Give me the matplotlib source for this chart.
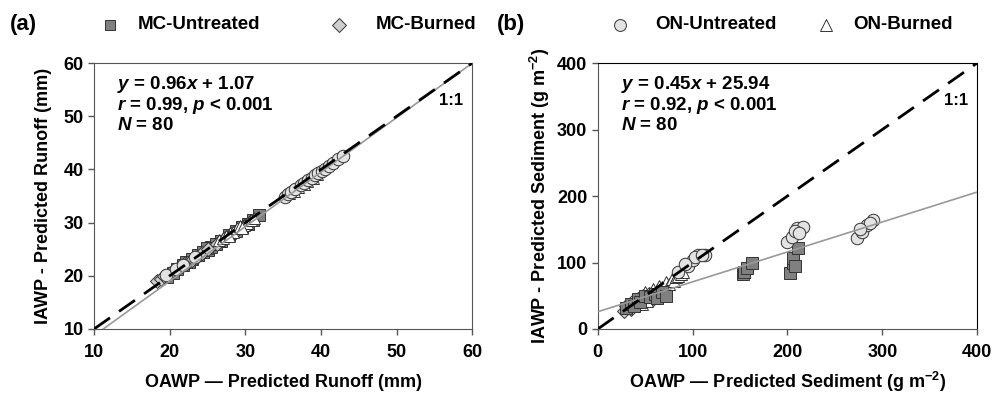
import matplotlib.pyplot as plt
from matplotlib.lines import Line2D

plt.rcParams['font.family'] = ['Liberation Sans', 'DejaVu Sans']
plt.rcParams['font.weight'] = 'bold'
plt.rcParams['mathtext.fontset'] = 'custom'
plt.rcParams['mathtext.it'] = 'Liberation Sans:italic:bold'
plt.rcParams['mathtext.rm'] = 'Liberation Sans:bold'
plt.rcParams['mathtext.bf'] = 'Liberation Sans:bold'

# ---- panel (a): runoff (mm) ----
mc_unt_x_a = [19.6, 20.4, 21.0, 21.8, 22.5, 23.0, 23.7, 24.4, 25.0, 25.5, 26.1, 26.8, 27.9, 28.8, 29.6, 30.3, 31.0, 31.8, 22.2, 24.9]
mc_unt_y_a = [19.8, 20.6, 21.3, 22.0, 22.6, 23.2, 23.9, 24.4, 24.8, 25.5, 25.9, 26.5, 27.6, 28.4, 29.1, 29.8, 30.5, 31.4, 22.6, 25.2]
mc_burn_x_a = [18.3, 18.8, 19.3, 19.9, 20.5, 21.1, 21.6, 22.3, 22.9, 23.6, 24.3, 25.1, 26.2, 27.3, 28.1, 28.9, 29.8, 30.6, 20.1, 21.9]
mc_burn_y_a = [19.0, 19.4, 19.9, 20.3, 20.9, 21.4, 21.8, 22.5, 23.0, 23.6, 24.2, 25.0, 26.0, 27.1, 27.8, 28.6, 29.4, 30.2, 20.6, 22.3]
on_unt_x_a = [19.5, 20.8, 21.7, 23.4, 35.2, 35.6, 36.0, 36.6, 37.3, 37.8, 38.3, 38.8, 39.2, 39.6, 40.1, 40.5, 41.0, 41.6, 42.3, 42.9]
on_unt_y_a = [20.2, 21.3, 22.1, 23.6, 34.9, 35.4, 35.8, 36.4, 37.0, 37.5, 38.0, 38.4, 38.9, 39.4, 39.7, 40.1, 40.6, 41.3, 42.0, 42.6]
on_burn_x_a = [26.5, 27.0, 27.5, 28.0, 28.4, 28.9, 29.3, 29.8, 30.2, 30.7, 31.1, 35.8, 36.4, 37.0, 37.7, 38.2, 38.9, 39.5, 27.8, 29.6]
on_burn_y_a = [26.8, 27.1, 27.4, 28.1, 28.2, 28.9, 29.4, 29.6, 30.0, 30.5, 30.9, 35.6, 36.0, 36.7, 37.3, 37.8, 38.4, 39.1, 27.4, 29.0]
# drawn regression line (slope, intercept)
fit_a = (1.025, -1.5)

# ---- panel (b): sediment (g m-2) ----
mc_unt_x_b = [30, 35, 38, 42, 45, 50, 55, 60, 62, 68, 72, 153, 154, 157, 163, 203, 206, 206, 211, 208]
mc_unt_y_b = [32, 38, 35, 45, 40, 50, 48, 52, 47, 55, 50, 82, 86, 92, 99, 84, 99, 107, 122, 95]
mc_burn_x_b = [28, 32, 35, 38, 40, 43, 46, 50, 52, 55, 58, 60, 63, 66, 70, 30, 36, 42, 48, 54]
mc_burn_y_b = [27, 33, 30, 38, 36, 42, 40, 46, 44, 48, 45, 50, 48, 52, 55, 35, 40, 45, 50, 52]
on_unt_x_b = [95, 100, 106, 113, 199, 205, 210, 216, 273, 279, 284, 290, 103, 110, 208, 287, 85, 92, 212, 276]
on_unt_y_b = [95, 104, 111, 111, 131, 138, 152, 153, 137, 146, 156, 164, 108, 112, 148, 160, 85, 98, 145, 150]
on_burn_x_b = [40, 45, 50, 55, 58, 62, 65, 68, 72, 75, 78, 80, 82, 85, 88, 90, 70, 60, 52, 47]
on_burn_y_b = [45, 48, 55, 52, 60, 58, 65, 63, 70, 68, 75, 72, 78, 80, 82, 85, 55, 50, 42, 38]
fit_b = (0.45, 25.94)

styles = {
    'MC-Untreated': dict(marker='s', color='#808080', ms=8),
    'MC-Burned': dict(marker='D', color='#cfcfcf', ms=7),
    'ON-Untreated': dict(marker='o', color='#e3e3e3', ms=9),
    'ON-Burned': dict(marker='^', color='white', ms=9),
}

fig = plt.figure(figsize=(9.93, 3.94), dpi=100)
ax1 = fig.add_axes([0.0947, 0.165, 0.381, 0.675])
ax2 = fig.add_axes([0.602, 0.165, 0.382, 0.675])


def draw(ax, series, lim, fit, ticks, eq):
    for name, (xs, ys) in series.items():
        st = styles[name]
        ax.plot(xs, ys, linestyle='none', marker=st['marker'], ms=st['ms'],
                mfc=st['color'], mec='#333333', mew=0.7, zorder=2)
    ax.plot(lim, lim, color='black', lw=2, dashes=(7, 4), zorder=4)
    fx = [lim[0] - 20, lim[1]]
    ax.plot(fx, [fit[0] * v + fit[1] for v in fx], color='#999999', lw=1.2, zorder=3)
    ax.set_xlim(lim)
    ax.set_ylim(lim)
    ax.set_xticks(ticks)
    ax.set_yticks(ticks)
    ax.tick_params(direction='out', length=4, width=1, color='#555555', labelsize=13)
    ax.tick_params(axis='x', pad=7)
    for sp in ax.spines.values():
        sp.set_color('#555555')
    ax.text(0.06, 0.96, eq, transform=ax.transAxes, fontsize=13.5,
            fontweight='bold', va='top', linespacing=1.05)
    ax.text(0.975, 0.86, '1:1', transform=ax.transAxes, fontsize=12,
            fontweight='bold', ha='right', va='center')


draw(ax1, {'MC-Untreated': (mc_unt_x_a, mc_unt_y_a), 'MC-Burned': (mc_burn_x_a, mc_burn_y_a),
           'ON-Burned': (on_burn_x_a, on_burn_y_a), 'ON-Untreated': (on_unt_x_a, on_unt_y_a)},
     [10, 60], fit_a, [10, 20, 30, 40, 50, 60],
     '$y$ = 0.96$x$ + 1.07\n$r$ = 0.99, $p$ < 0.001\n$N$ = 80')
draw(ax2, {'MC-Burned': (mc_burn_x_b, mc_burn_y_b), 'ON-Burned': (on_burn_x_b, on_burn_y_b),
           'MC-Untreated': (mc_unt_x_b, mc_unt_y_b), 'ON-Untreated': (on_unt_x_b, on_unt_y_b)},
     [0, 400], fit_b, [0, 100, 200, 300, 400],
     '$y$ = 0.45$x$ + 25.94\n$r$ = 0.92, $p$ < 0.001\n$N$ = 80')
ax2.spines['top'].set_color('black')
ax2.spines['right'].set_color('black')

ax1.set_xlabel('OAWP \u2014 Predicted Runoff (mm)', fontsize=13, fontweight='bold', labelpad=9)
ax1.set_ylabel('IAWP - Predicted Runoff (mm)', fontsize=13, fontweight='bold', labelpad=8)
ax2.set_xlabel('OAWP \u2014 Predicted Sediment (g m$^{\\mathbf{-2}}$)', fontsize=13, fontweight='bold', labelpad=6)
ax2.set_ylabel('IAWP - Predicted Sediment (g m$^{\\mathbf{-2}}$)', fontsize=13, fontweight='bold', labelpad=4)

# panel letters and legends above the axes
fig.text(0.010, 0.937, '(a)', fontsize=16, fontweight='bold', va='center')
fig.text(0.500, 0.937, '(b)', fontsize=16, fontweight='bold', va='center')
legend_items = [('MC-Untreated', 0.111, 0.139), ('MC-Burned', 0.341, 0.378),
                ('ON-Untreated', 0.624, 0.660), ('ON-Burned', 0.832, 0.859)]
for name, mx, tx in legend_items:
    st = styles[name]
    fig.add_artist(Line2D([mx], [0.937], marker=st['marker'], ms=st['ms'] * 0.95,
                          mfc=st['color'], mec='#333333', mew=0.7, linestyle='none'))
    fig.text(tx, 0.937, name, fontsize=13.5, fontweight='bold', va='center')

fig.savefig('out.png', dpi=100)
